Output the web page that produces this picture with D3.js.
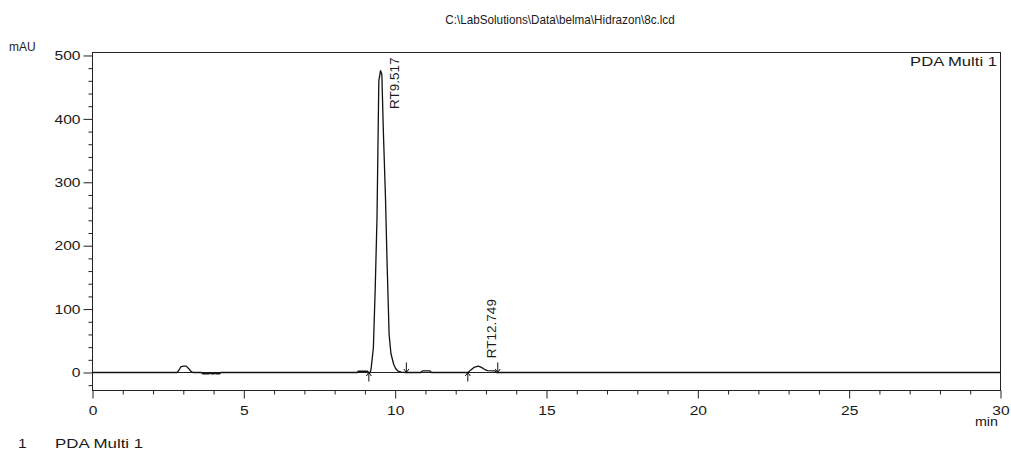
<!DOCTYPE html>
<html>
<head>
<meta charset="utf-8">
<script src="https://cdn.jsdelivr.net/npm/d3@7"></script>
<style>
  html, body { margin: 0; padding: 0; background: #fff; }
  svg { display: block; }
  text { font-family: "Liberation Sans", Arial, sans-serif; fill: #1a1a1a; }
</style>
</head>
<body>
<svg id="chart" width="1011" height="461"></svg>
<script>
// Chromatogram trace: retention time (min) and detector response (mAU)
const timeMin = [
  0, 2.80, 2.86, 2.92, 3.00, 3.10, 3.18, 3.25, 3.32,
  3.60, 3.64, 3.85, 3.88, 3.92, 4.02, 4.05, 4.08, 4.20, 4.24,
  8.75, 8.78, 9.08, 9.13, 9.18, 9.21, 9.28, 9.34, 9.40, 9.46, 9.517,
  9.56, 9.61, 9.68, 9.73, 9.80, 9.86, 9.95, 10.02, 10.10, 10.20, 10.35,
  10.85, 10.90, 11.15, 11.20,
  12.40, 12.48, 12.60, 12.749, 12.85, 12.95, 13.05, 13.30, 13.35, 30
];
const signal = [
  0, 0, 4, 9, 10, 10, 6, 2, 0,
  0, -2, -2, 0, -2, -2, 0, -2, -2, 0,
  0, 2, 2, 0, 0, 8, 39, 131, 244, 460, 476,
  470, 380, 276, 178, 60, 30, 13, 6, 2, 0.5, 0,
  0, 2.5, 2.5, 0,
  0, 3, 8, 10, 8, 5, 3, 2.5, 0, 0
];

// Axis ticks
const yMajorTicks = [0, 100, 200, 300, 400, 500];
const xMajorTicks = [0, 5, 10, 15, 20, 25, 30];

// Integrated peaks
const peakRT = [9.517, 12.749];
const peakLabels = ["RT9.517", "RT12.749"];
const peakStart = [9.13, 12.40];
const peakEnd = [10.37, 13.39];

const fileTitle = "C:\\LabSolutions\\Data\\belma\\Hidrazon\\8c.lcd";
const channelName = "PDA Multi 1";

// ---- layout ----
const plot = { left: 92.5, right: 1000.5, top: 52.5, bottom: 390.5 };
const fontSize = 13;

const svg = d3.select("#chart");

const x = d3.scaleLinear().domain([0, 30]).range([plot.left, plot.right]);
const y = d3.scaleLinear().domain([-28.4, 504.7]).range([plot.bottom, plot.top]);

const data = timeMin.map((t, i) => ({ t, v: signal[i] }));

// horizontal stretch of a text about its anchor point
function stretchText(sel, k) {
  sel.attr("transform", function () {
    const ax = +this.getAttribute("x") || 0;
    const ay = +this.getAttribute("y") || 0;
    return `translate(${ax},${ay}) scale(${k},1) translate(${-ax},${-ay})`;
  });
}

// frame
svg.append("rect")
  .attr("x", plot.left).attr("y", plot.top)
  .attr("width", plot.right - plot.left).attr("height", plot.bottom - plot.top)
  .attr("fill", "none").attr("stroke", "#222").attr("stroke-width", 1);

// zero baseline
svg.append("line")
  .attr("x1", plot.left).attr("x2", plot.right)
  .attr("y1", Math.round(y(0)) + 0.5).attr("y2", Math.round(y(0)) + 0.5)
  .attr("stroke", "#222").attr("stroke-width", 1);

// y axis: minor and major ticks
const yMinor = d3.range(-20, 501, 20).filter(v => v % 100 !== 0);
svg.append("g").attr("transform", `translate(${plot.left},0)`)
  .call(d3.axisLeft(y).tickValues(yMinor).tickSize(4).tickFormat(""))
  .call(g => g.select(".domain").remove())
  .call(g => g.selectAll("line").attr("stroke", "#222"));

const yAxis = svg.append("g").attr("transform", `translate(${plot.left},0)`)
  .call(d3.axisLeft(y).tickValues(yMajorTicks).tickSize(9).tickPadding(3).tickFormat(d3.format("d")))
  .call(g => g.select(".domain").remove())
  .call(g => g.selectAll("line").attr("stroke", "#222"));
yAxis.selectAll("text")
  .attr("font-size", fontSize).attr("font-family", null).attr("fill", "#1a1a1a")
  .call(stretchText, 1.2);

// x axis: minor and major ticks
const xMinor = d3.range(1, 30).filter(v => v % 5 !== 0);
svg.append("g").attr("transform", `translate(0,${plot.bottom})`)
  .call(d3.axisBottom(x).tickValues(xMinor).tickSize(4).tickFormat(""))
  .call(g => g.select(".domain").remove())
  .call(g => g.selectAll("line").attr("stroke", "#222"));

const xAxis = svg.append("g").attr("transform", `translate(0,${plot.bottom})`)
  .call(d3.axisBottom(x).tickValues(xMajorTicks).tickSize(8).tickPadding(7).tickFormat(d3.format("d")))
  .call(g => g.select(".domain").remove())
  .call(g => g.selectAll("line").attr("stroke", "#222"));
xAxis.selectAll("text")
  .attr("font-size", fontSize).attr("font-family", null).attr("fill", "#1a1a1a")
  .call(stretchText, 1.2);

// chromatogram trace
const line = d3.line().x(d => x(d.t)).y(d => y(d.v));
svg.append("path")
  .datum(data)
  .attr("d", line)
  .attr("fill", "none")
  .attr("stroke", "#111")
  .attr("stroke-width", 1.3)
  .attr("stroke-linejoin", "round");

// peak start / end markers
const y0 = y(0);
peakStart.forEach(t => {
  const px = x(t);
  svg.append("path")
    .attr("d", `M${px},${y0 + 9}L${px},${y0}M${px - 2.5},${y0 + 3.5}L${px},${y0}L${px + 2.5},${y0 + 3.5}`)
    .attr("fill", "none").attr("stroke", "#111").attr("stroke-width", 1);
});
peakEnd.forEach(t => {
  const px = x(t);
  svg.append("path")
    .attr("d", `M${px},${y0 - 10}L${px},${y0}M${px - 2.5},${y0 - 3.5}L${px},${y0}L${px + 2.5},${y0 - 3.5}`)
    .attr("fill", "none").attr("stroke", "#111").attr("stroke-width", 1);
});

// retention time labels, rotated; kept inside the frame
peakRT.forEach((rt, i) => {
  const idx = timeMin.indexOf(rt);
  const apexY = y(signal[idx]);
  const lx = x(rt) + 18;
  const t = svg.append("text")
    .attr("font-size", fontSize + 0.5)
    .attr("text-anchor", "start")
    .text(peakLabels[i]);
  const len = t.node().getComputedTextLength();
  const ly = Math.max(apexY - 8, plot.top + 5 + len);
  t.attr("transform", `translate(${lx},${ly}) rotate(-90)`);
});

// title and annotations
svg.append("text")
  .attr("x", 560).attr("y", 24)
  .attr("text-anchor", "middle")
  .attr("font-size", fontSize)
  .text(fileTitle)
  .call(stretchText, 0.9);

svg.append("text")
  .attr("x", 9).attr("y", 51)
  .attr("font-size", fontSize)
  .text("mAU")
  .call(stretchText, 0.92);

svg.append("text")
  .attr("x", 997).attr("y", 66)
  .attr("text-anchor", "end")
  .attr("font-size", fontSize)
  .text(channelName)
  .call(stretchText, 1.28);

svg.append("text")
  .attr("x", 998).attr("y", 426)
  .attr("text-anchor", "end")
  .attr("font-size", fontSize)
  .text("min")
  .call(stretchText, 1.1);

svg.append("text")
  .attr("x", 18).attr("y", 448)
  .attr("font-size", fontSize)
  .text("1")
  .call(stretchText, 1.2);

svg.append("text")
  .attr("x", 55).attr("y", 448)
  .attr("font-size", fontSize)
  .text(channelName)
  .call(stretchText, 1.3);
</script>
</body>
</html>
